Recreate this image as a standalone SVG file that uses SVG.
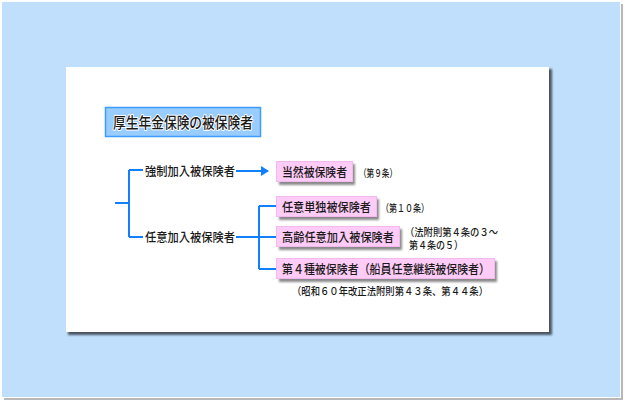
<svg xmlns="http://www.w3.org/2000/svg" width="625" height="401" viewBox="0 0 625 401">
<defs>
<style>
.t{font-family:"Noto Sans CJK JP","Noto Sans CJK SC",sans-serif;fill:#1a1a1a;font-weight:500;}
.bx{font-size:12.5px;}
.nt{font-size:10.5px;}
.ln{stroke:#1080FF;stroke-width:2;fill:none;}
.pink{fill:#FFCCF8;stroke:#F3B8EE;stroke-width:1;}
.psh{fill:#8a8a8a;filter:url(#bl);}
</style>
<filter id="bl" x="-10%" y="-10%" width="120%" height="140%"><feGaussianBlur stdDeviation="0.8"/></filter>
<marker id="ah" markerWidth="8" markerHeight="10" refX="7" refY="5" orient="auto" markerUnits="userSpaceOnUse">
<path d="M0,0 L8,5 L0,10 Z" fill="#1080FF"/>
</marker>
</defs>
<rect width="625" height="401" fill="#fff"/>
<rect x="4" y="4" width="619" height="396" fill="#b8b8b8"/>
<rect x="2" y="2" width="619" height="396" fill="#fff"/>
<rect x="2" y="2" width="618" height="395" fill="#BFDFFD"/>
<rect x="68" y="69" width="484" height="266" fill="#4b5560" filter="url(#bl)"/>
<rect x="66" y="67" width="483" height="265" fill="#fff"/>
<g id="title">
<rect x="105.5" y="107.5" width="155" height="29" fill="#99CCFF" stroke="#3D9CFF" stroke-width="1.5"/>
<text class="t" x="113" y="127.5" font-size="15" textLength="140" lengthAdjust="spacingAndGlyphs" style="stroke:#fff;stroke-width:2;paint-order:stroke;stroke-linejoin:round">厚生年金保険の被保険者</text>
</g>
<g id="connectors">
<path class="ln" d="M115,203 H129 M129,170 V237 M129,170 H143 M129,237 H143"/>
<path class="ln" d="M236,171 H268" marker-end="url(#ah)"/>
<path class="ln" d="M236,237 H259 M259,206 V269 M259,206 H276 M259,237 H276 M259,269 H276"/>
</g>
<g id="kyosei">
<text class="t bx" x="145" y="175.5" textLength="90" lengthAdjust="spacingAndGlyphs">強制加入被保険者</text>
</g>
<g id="nini">
<text class="t bx" x="145" y="241.5" textLength="90" lengthAdjust="spacingAndGlyphs">任意加入被保険者</text>
</g>
<g id="touzen">
<rect class="psh" x="279" y="164" width="76" height="21"/>
<rect class="pink" x="276.5" y="161.5" width="76" height="20"/>
<text class="t bx" x="282" y="176.5" textLength="65" lengthAdjust="spacingAndGlyphs">当然被保険者</text>
<text class="t nt" x="359" y="177" textLength="38" lengthAdjust="spacingAndGlyphs">（第９条）</text>
</g>
<g id="tandoku">
<rect class="psh" x="279" y="199" width="100" height="21"/>
<rect class="pink" x="276.5" y="196.5" width="100" height="20"/>
<text class="t bx" x="282" y="211.5" textLength="89" lengthAdjust="spacingAndGlyphs">任意単独被保険者</text>
<text class="t nt" x="381" y="212" textLength="48" lengthAdjust="spacingAndGlyphs">（第１０条）</text>
</g>
<g id="koureinini">
<rect class="psh" x="279" y="229" width="123" height="21"/>
<rect class="pink" x="276.5" y="226.5" width="123" height="20"/>
<text class="t bx" x="282" y="241.5" textLength="112" lengthAdjust="spacingAndGlyphs">高齢任意加入被保険者</text>
<text class="t nt" x="405" y="235.5" font-size="9" textLength="93" lengthAdjust="spacingAndGlyphs">（法附則第４条の３～</text>
<text class="t nt" x="409" y="249" font-size="9" textLength="54" lengthAdjust="spacingAndGlyphs">第４条の５）</text>
</g>
<g id="daiyonshu">
<rect class="psh" x="279" y="261" width="218" height="21"/>
<rect class="pink" x="276.5" y="258.5" width="218" height="20"/>
<text class="t bx" x="282" y="273.5" textLength="208" lengthAdjust="spacingAndGlyphs">第４種被保険者（船員任意継続被保険者）</text>
<text class="t nt" x="292" y="295" textLength="196" lengthAdjust="spacingAndGlyphs">（昭和６０年改正法附則第４３条、第４４条）</text>
</g>
</svg>
